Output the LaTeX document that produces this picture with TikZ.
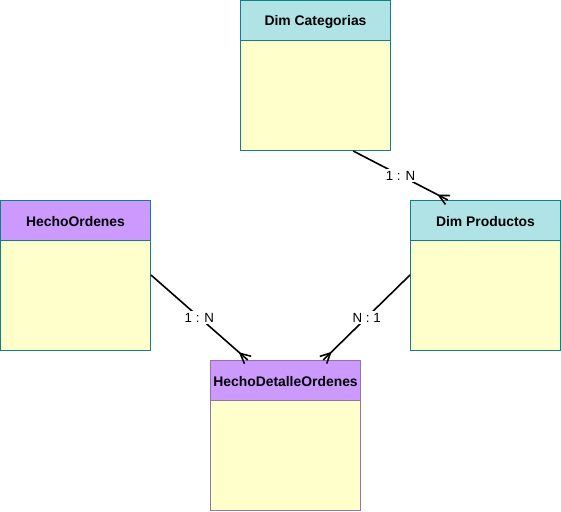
\documentclass[tikz,border=0pt]{standalone}
\usepackage{fontspec}
\setmainfont{Liberation Sans}
\usetikzlibrary{calc}
\definecolor{hcyan}{HTML}{B0E3E6}
\definecolor{bteal}{HTML}{0E8088}
\definecolor{hpurple}{HTML}{CC99FF}
\definecolor{bpurple}{HTML}{9673A6}
\definecolor{byellow}{HTML}{FFFFCC}
\tikzset{
  hdr/.style={draw, line width=1pt, minimum width=150pt, minimum height=40pt, anchor=north west, inner sep=0pt, text height=11pt, text depth=0pt, font=\fontsize{13.9}{16}\selectfont\bfseries},
  bodybox/.style={draw, line width=1pt, fill=byellow, minimum width=150pt, minimum height=110pt, anchor=north west, inner sep=0pt},
  conn/.style={line width=1.6pt, black},
  lbl/.style={fill=white, inner sep=1.5pt, font=\fontsize{13.3}{15}\selectfont},
}
\newcommand{\crowfoot}[2]{% #1 end, #2 start
  \draw[conn] ($(#1)!5pt!90:(#2)$) -- ($(#1)!10pt!(#2)$) -- ($(#1)!5pt!-90:(#2)$);
}
\begin{document}
\begin{tikzpicture}[x=1pt,y=-1pt]
\useasboundingbox (0,0) rectangle (561,511);
% Dim Categorias
\node[bodybox, draw=bteal] (dcb) at (240,40) {};
\node[hdr, draw=bteal, fill=hcyan] (dc) at (240,0) {Dim Categorias};
% Dim Productos
\node[bodybox, draw=bteal] (dpb) at (410,240) {};
\node[hdr, draw=bteal, fill=hcyan] (dp) at (410,200) {Dim Productos};
% HechoOrdenes
\node[bodybox, draw=bteal] (hob) at (0,240) {};
\node[hdr, draw=bteal, fill=hpurple] (ho) at (0,200) {HechoOrdenes};
% HechoDetalleOrdenes
\node[bodybox, draw=bpurple] (hdb) at (210,400) {};
\node[hdr, draw=bpurple, fill=hpurple] (hd) at (210,360) {HechoDetalleOrdenes};
% connection points
\coordinate (s1) at ($(dcb.south west)!0.75!(dcb.south east)$);
\coordinate (e1) at ($(dp.north west)!0.25!(dp.north east)$);
\coordinate (s2) at (hob.north east |- 0,275);
\coordinate (e2) at ($(hd.north west)!0.25!(hd.north east)$);
\coordinate (s3) at (dpb.north west |- 0,275);
\coordinate (e3) at ($(hd.north west)!0.75!(hd.north east)$);
% edges
\draw[conn] (s1) -- node[lbl] {1 : N} (e1);
\crowfoot{e1}{s1}
\draw[conn] (s2) -- node[lbl] {1 : N} (e2);
\crowfoot{e2}{s2}
\draw[conn] (s3) -- node[lbl] {N : 1} (e3);
\crowfoot{e3}{s3}
\end{tikzpicture}
\end{document}
